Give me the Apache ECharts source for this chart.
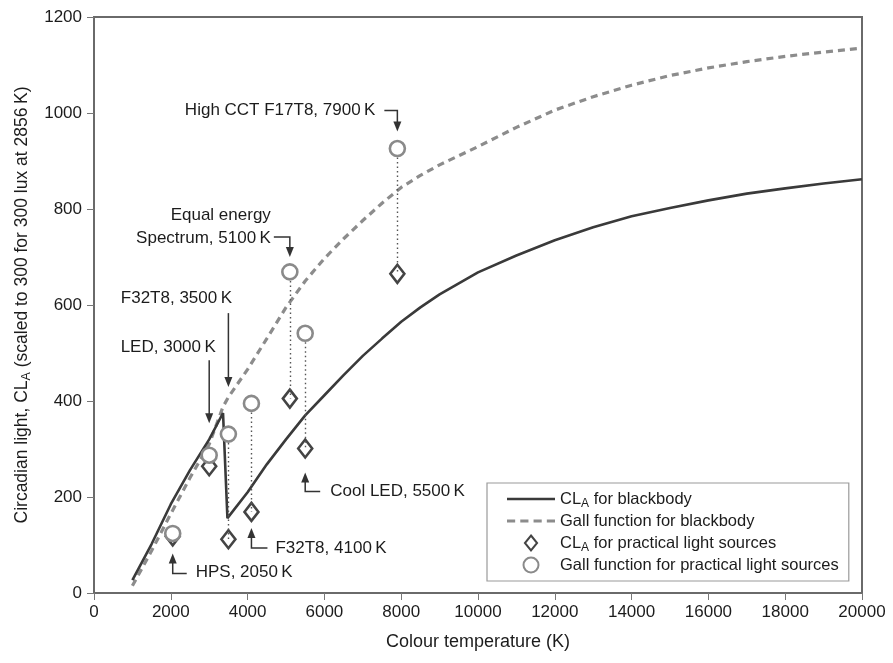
<!DOCTYPE html>
<html>
<head>
<meta charset="utf-8">
<script src="https://cdn.jsdelivr.net/npm/echarts@6/dist/echarts.min.js"></script>
<style>
  html, body { margin: 0; padding: 0; background: #fff; }
  #chart { width: 893px; height: 663px; }
</style>
</head>
<body>
<div id="chart"></div>
<script>
// blackbody curves (colour temperature in K)
const bbTemp = [1000, 1500, 2000, 2500, 3000, 3360, 3475, 4000, 4500, 5000, 5500, 6000, 6500, 7000, 7500, 8000, 8500, 9000,
  10000, 11000, 12000, 13000, 14000, 15000, 16000, 17000, 18000, 19000, 20000];
const bbCLA = [27, 102, 185, 256, 320, 375, 156, 210, 268, 320, 370, 412, 454, 494, 530, 565, 595, 622,
  668, 703, 735, 762, 785, 802, 818, 832, 843, 853, 862];
const bbGallTemp = [1000, 1500, 2000, 2500, 3000, 3360, 3500, 4000, 4500, 5000, 5500, 6000, 6500, 7000, 7500, 8000, 8500, 9000,
  10000, 11000, 12000, 13000, 14000, 15000, 16000, 17000, 18000, 19000, 20000];
const bbGall = [15, 88, 165, 240, 310, 388, 408, 466, 530, 595, 650, 697, 738, 776, 812, 845, 870, 892,
  930, 970, 1006, 1034, 1058, 1078, 1094, 1107, 1118, 1127, 1135];

// practical light sources
const srcTemp = [2050, 3000, 3500, 4100, 5100, 5500, 7900];
const srcCLA = [118, 264, 112, 169, 405, 301, 665];
const srcGall = [124, 287, 331, 395, 669, 541, 926];
const srcLabels = ['HPS, 2050\u2009K', 'LED, 3000\u2009K', 'F32T8, 3500\u2009K', 'F32T8, 4100\u2009K',
  'Equal energy\nSpectrum, 5100\u2009K', 'Cool LED, 5500\u2009K', 'High CCT F17T8, 7900\u2009K'];

const legendNames = {
  bbCLA: '{n|CL}{s|A}{n| for blackbody}',
  bbGall: '{n|Gall function for blackbody}',
  srcCLA: '{n|CL}{s|A}{n| for practical light sources}',
  srcGall: '{n|Gall function for practical light sources}'
};

const TXT = '#1c1c1c';
const FONT = 'Liberation Sans, Arial, sans-serif';

// legend icons: a plain stroke, a dashed stroke, an outlined diamond
const ICON_SOLID = 'path://M0,0H48V2.6H0Z';
const ICON_DASH = 'path://M0,0H8V3H0ZM13,0H21V3H13ZM26,0H34V3H26ZM39,0H47V3H39Z';
const ICON_DIAMOND = 'path://M0,-8L6.5,0L0,8L-6.5,0Z';

const chart = echarts.init(document.getElementById('chart'));

// dotted connectors between the two markers of each source (only where they are apart)
const connectors = [];
srcTemp.forEach((t, i) => {
  if (srcGall[i] - srcCLA[i] > 40) {
    connectors.push([{ coord: [t, srcGall[i]] }, { coord: [t, srcCLA[i]] }]);
  }
});

const option = {
  animation: false,
  backgroundColor: '#fff',
  textStyle: { fontFamily: FONT },
  grid: {
    left: 94, right: 31, top: 17, bottom: 70,
    show: true, borderColor: '#6a6a6a', borderWidth: 2
  },
  legend: {
    orient: 'vertical',
    left: 487, top: 483,
    padding: [5, 10, 5, 20],
    itemWidth: 48, itemHeight: 15, itemGap: 0,
    symbolKeepAspect: true,
    borderColor: '#9a9a9a', borderWidth: 1.2,
    data: [
      { name: 'bbCLA', icon: ICON_SOLID },
      { name: 'bbGall', icon: ICON_DASH },
      { name: 'srcCLA', icon: ICON_DIAMOND },
      { name: 'srcGall' }
    ],
    formatter: name => legendNames[name],
    textStyle: {
      color: TXT, fontSize: 16.5, fontFamily: FONT, lineHeight: 22,
      rich: {
        n: { fontSize: 16.5, color: TXT, fontFamily: FONT, lineHeight: 22 },
        s: { fontSize: 12, color: TXT, fontFamily: FONT, padding: [9, 0, 0, 0] }
      }
    }
  },
  xAxis: {
    type: 'value', min: 0, max: 20000, interval: 2000,
    name: 'Colour temperature (K)', nameLocation: 'middle', nameGap: 40,
    nameTextStyle: { color: TXT, fontSize: 18, fontFamily: FONT },
    axisLine: { lineStyle: { color: '#6a6a6a', width: 2 } },
    axisTick: { length: 7, lineStyle: { color: '#777', width: 1 } },
    axisLabel: { color: TXT, fontSize: 17, margin: 11, fontFamily: FONT, formatter: v => String(v) },
    splitLine: { show: false }
  },
  yAxis: {
    type: 'value', min: 0, max: 1200, interval: 200,
    name: 'Circadian light, {n|CL}{s|A}{n| (scaled to 300 for 300 lux at 2856\u2009K)}',
    nameLocation: 'middle', nameGap: 60, nameRotate: 90,
    nameTextStyle: {
      color: TXT, fontSize: 17.5, fontFamily: FONT,
      rich: {
        n: { fontSize: 17.5, color: TXT, fontFamily: FONT },
        s: { fontSize: 12.5, color: TXT, fontFamily: FONT, padding: [9, 0, 0, 0] }
      }
    },
    axisLine: { show: true, lineStyle: { color: '#6a6a6a', width: 2 } },
    axisTick: { show: true, length: 7, lineStyle: { color: '#777', width: 1 } },
    axisLabel: { color: TXT, fontSize: 17, margin: 12, fontFamily: FONT, formatter: v => String(v) },
    splitLine: { show: false }
  },
  series: [
    {
      name: 'connectors', type: 'line', data: [], z: 1,
      markLine: {
        silent: true, symbol: 'none',
        lineStyle: { color: '#555', type: [1.5, 3], width: 1.4 },
        label: { show: false },
        data: connectors
      }
    },
    {
      name: 'bbGall', type: 'line', z: 2,
      data: bbGallTemp.map((t, i) => [t, bbGall[i]]),
      symbol: 'none', showSymbol: false,
      lineStyle: { color: '#8c8c8c', width: 3.2, type: [7, 5] },
      itemStyle: { color: '#8c8c8c' }
    },
    {
      name: 'bbCLA', type: 'line', z: 3,
      data: bbTemp.map((t, i) => [t, bbCLA[i]]),
      symbol: 'none', showSymbol: false,
      lineStyle: { color: '#3a3a3a', width: 2.6 },
      itemStyle: { color: '#3a3a3a' }
    },
    {
      name: 'srcCLA', type: 'scatter', z: 4,
      data: srcTemp.map((t, i) => [t, srcCLA[i]]),
      symbol: 'diamond', symbolSize: [14, 18],
      itemStyle: { color: '#fff', borderColor: '#444', borderWidth: 2.6, opacity: 1 }
    },
    {
      name: 'srcGall', type: 'scatter', z: 5,
      data: srcTemp.map((t, i) => [t, srcGall[i]]),
      symbol: 'circle', symbolSize: 15,
      itemStyle: { color: '#fff', borderColor: '#8a8a8a', borderWidth: 2.6, opacity: 1 }
    }
  ]
};

chart.setOption(option);

// annotation layout, offsets in px relative to the marker they point at
// kind: 'bentDown' text left of a hook arrow, 'down' straight arrow under text, 'bentUp' hook arrow from text below
const annots = [
  { i: 6, on: 'gall', kind: 'bentDown', tip: -17, elbow: -38, hx: -13, tx: -22, ty: -38 },
  { i: 4, on: 'gall', kind: 'bentDown', tip: -15, elbow: -35, hx: -16, tx: -19, ty: -45 },
  { i: 2, on: 'gall', kind: 'down', tip: -47, start: -121, tx: -52, ty: -136 },
  { i: 1, on: 'gall', kind: 'down', tip: -32, start: -95, tx: -41, ty: -108 },
  { i: 0, on: 'gall', kind: 'bentUp', tip: 20, elbow: 40, hx: 14, tx: 23, ty: 39 },
  { i: 3, on: 'cla', kind: 'bentUp', tip: 16, elbow: 36, hx: 16, tx: 24, ty: 36 },
  { i: 5, on: 'cla', kind: 'bentUp', tip: 24, elbow: 43, hx: 15, tx: 25, ty: 43 }
];

function arrowHead(x, y, dir) {
  const w = 4, h = 10;
  return {
    type: 'polygon', silent: true, z: 20,
    shape: { points: [[x, y], [x - w, y - dir * h], [x + w, y - dir * h]] },
    style: { fill: '#333' }
  };
}

const graphics = [];
annots.forEach(a => {
  const val = a.on === 'gall' ? srcGall[a.i] : srcCLA[a.i];
  const p = chart.convertToPixel({ gridIndex: 0 }, [srcTemp[a.i], val]);
  const x = p[0], y = p[1];
  const line = { stroke: '#333', lineWidth: 1.5, fill: null };
  const txt = { fill: TXT, font: '17px ' + FONT, lineHeight: 23 };
  if (a.kind === 'bentDown') {
    graphics.push({ type: 'polyline', silent: true, z: 20,
      shape: { points: [[x + a.hx, y + a.elbow], [x, y + a.elbow], [x, y + a.tip - 6]] }, style: line });
    graphics.push(arrowHead(x, y + a.tip, 1));
    graphics.push({ type: 'text', silent: true, z: 20, x: x + a.tx, y: y + a.ty,
      style: Object.assign({ text: srcLabels[a.i], align: 'right', verticalAlign: 'middle' }, txt) });
  } else if (a.kind === 'down') {
    graphics.push({ type: 'polyline', silent: true, z: 20,
      shape: { points: [[x, y + a.start], [x, y + a.tip - 6]] }, style: line });
    graphics.push(arrowHead(x, y + a.tip, 1));
    graphics.push({ type: 'text', silent: true, z: 20, x: x + a.tx, y: y + a.ty,
      style: Object.assign({ text: srcLabels[a.i], align: 'center', verticalAlign: 'middle' }, txt) });
  } else {
    graphics.push({ type: 'polyline', silent: true, z: 20,
      shape: { points: [[x, y + a.tip + 6], [x, y + a.elbow], [x + a.hx, y + a.elbow]] }, style: line });
    graphics.push(arrowHead(x, y + a.tip, -1));
    graphics.push({ type: 'text', silent: true, z: 20, x: x + a.tx, y: y + a.ty,
      style: Object.assign({ text: srcLabels[a.i], align: 'left', verticalAlign: 'middle' }, txt) });
  }
});

chart.setOption({ graphic: graphics });
</script>
</body>
</html>
